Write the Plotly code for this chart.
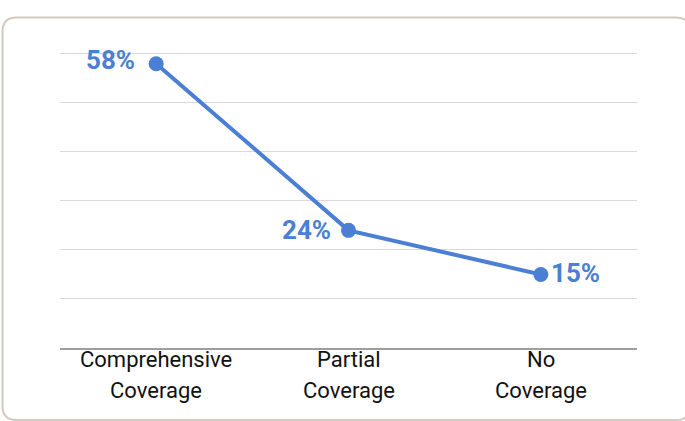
import plotly.graph_objects as go

# Data
categories = ["Comprehensive Coverage", "Partial Coverage", "No Coverage"]
tick_lines = [["Comprehensive", "Coverage"], ["Partial", "Coverage"], ["No", "Coverage"]]
shares = [58, 24, 15]

W, H = 685, 421
ML, MR, MT, MB = 60, 48, 49, 73
BLUE = "#4a7fd3"

fig = go.Figure()
fig.add_trace(go.Scatter(
    x=list(range(len(categories))),
    y=shares,
    mode="lines+markers",
    line=dict(color=BLUE, width=4),
    marker=dict(color=BLUE, size=15),
    cliponaxis=False,
    hoverinfo="skip",
))

# Value labels beside each point
label_anchor = ["right", "right", "left"]
label_dx = [-19, -16, 8]
label_dy = [4, 0, 1]
for i, v in enumerate(shares):
    fig.add_annotation(
        x=i, y=v, xref="x", yref="y", text=f"<b>{v}%</b>", showarrow=False,
        xanchor=label_anchor[i], yanchor="middle",
        xshift=label_dx[i], yshift=label_dy[i],
        font=dict(family="Roboto", size=26, color=BLUE),
    )

# Category labels, two lines each
for i, lines in enumerate(tick_lines):
    for j, line in enumerate(lines):
        fig.add_annotation(
            x=i, xref="x", y=0, yref="paper",
            text=line, showarrow=False,
            yanchor="middle", yshift=-11 - 31 * j,
            font=dict(family="Roboto", size=22, color="#111111"),
        )

# Rounded frame around the chart, defined in pixels and mapped to paper units
pw, ph = W - ML - MR, H - MT - MB
def px(xp):
    return (xp - ML) / pw
def py(yp):
    return (H - MB - yp) / ph

x0, y0, x1, y1, r = 2.5, 17.5, 690, 420, 14
path = (
    f"M {px(x0 + r)},{py(y0)} L {px(x1 - r)},{py(y0)} "
    f"Q {px(x1)},{py(y0)} {px(x1)},{py(y0 + r)} "
    f"L {px(x1)},{py(y1 - r)} Q {px(x1)},{py(y1)} {px(x1 - r)},{py(y1)} "
    f"L {px(x0 + r)},{py(y1)} Q {px(x0)},{py(y1)} {px(x0)},{py(y1 - r)} "
    f"L {px(x0)},{py(y0 + r)} Q {px(x0)},{py(y0)} {px(x0 + r)},{py(y0)} Z"
)
fig.add_shape(type="path", path=path, xref="paper", yref="paper",
              line=dict(color="#d3c9bf", width=2), layer="below")

fig.update_xaxes(
    range=[-0.5, 2.5], showgrid=False, zeroline=False,
    showticklabels=False, showline=True, linecolor="#9e9e9e", linewidth=1.5,
    fixedrange=True,
)
fig.update_yaxes(
    range=[0, 61], dtick=10, showgrid=True, gridcolor="#dadada", gridwidth=1,
    zeroline=False, showticklabels=False, fixedrange=True,
)
fig.update_layout(
    width=W, height=H,
    margin=dict(l=ML, r=MR, t=MT, b=MB),
    paper_bgcolor="white", plot_bgcolor="white",
    showlegend=False,
)

fig.write_html("out.html", config={"displayModeBar": False})
